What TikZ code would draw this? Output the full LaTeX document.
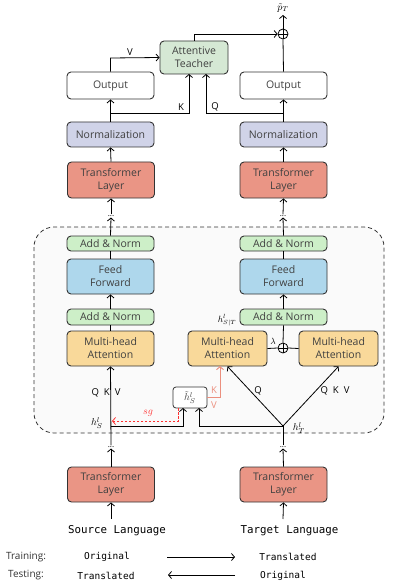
\documentclass[tikz,border=0pt]{standalone}
\usepackage{fontspec}
\setmainfont{Open Sans}
\setmonofont{DejaVu Sans Mono}
\usetikzlibrary{arrows.meta,calc}
\definecolor{cOut}{HTML}{FFFFFF}
\definecolor{cAT}{HTML}{D5E8D4}
\definecolor{cNorm}{HTML}{D0D3E8}
\definecolor{cTr}{HTML}{EA9585}
\definecolor{cAN}{HTML}{CDEFC8}
\definecolor{cFF}{HTML}{AED7EC}
\definecolor{cMHA}{HTML}{F9D99A}
\definecolor{cKV}{HTML}{EB8F7E}
\definecolor{cSG}{HTML}{FF3030}
\definecolor{cBG}{HTML}{FAFAFA}
\begin{document}
\begin{tikzpicture}[x=1pt,y=-1pt,
  box/.style={draw=black!80, line width=0.9pt, rounded corners=4pt, align=center,
    inner sep=0pt, font=\fontsize{10.5}{13}\selectfont, text=black!75},
  arr/.style={-{Straight Barb[length=3pt,width=7pt]}, line width=0.8pt},
  ln/.style={line width=0.8pt},
  lbl/.style={font=\fontsize{9.5}{11}\selectfont, inner sep=0pt, text=black},
  dots/.style={inner sep=0.8pt, font=\fontsize{8}{6}\selectfont},
  plusc/.style={circle, draw, line width=0.8pt, minimum size=10pt, inner sep=0pt},
  mono/.style={font=\ttfamily\fontsize{10.8}{13}\selectfont, inner sep=0pt}
]
\useasboundingbox (0,0) rectangle (415,588);
% dashed region
\draw[line width=0.8pt, dash pattern=on 4pt off 3pt, fill=cBG, rounded corners=20pt, draw=black!80] (34,227) rectangle (384,433);

% top part
\node[box, fill=cOut, minimum width=87pt, minimum height=27pt] (outL) at (110.5,85.5) {Output};
\node[box, fill=cOut, minimum width=87pt, minimum height=27pt] (outR) at (283.5,85.5) {Output};
\node[box, fill=cAT, minimum width=68pt, minimum height=33pt] (AT) at (194,57.5) {Attentive\\Teacher};
\node[plusc] (pTop) at (283,34) {};
\draw[line width=0.8pt] (pTop.north)--(pTop.south) (pTop.west)--(pTop.east);
\node[inner sep=0pt] (pT) at (283,8) {$\tilde{p}_T$};
\node[box, fill=cNorm, minimum width=87pt, minimum height=25pt] (normL) at (110.5,134.5) {Normalization};
\node[box, fill=cNorm, minimum width=87pt, minimum height=25pt] (normR) at (283.5,134.5) {Normalization};
\node[box, fill=cTr, minimum width=87pt, minimum height=36pt] (trL) at (111,180) {Transformer\\Layer};
\node[box, fill=cTr, minimum width=87pt, minimum height=36pt] (trR) at (283.5,180) {Transformer\\Layer};
\node[dots] (dTL) at (111,216) {...};
\node[dots] (dTR) at (283,216) {...};

% encoder block left
\node[box, fill=cAN, minimum width=87pt, minimum height=15pt] (an1L) at (110.5,243.5) {Add \& Norm};
\node[box, fill=cFF, minimum width=87pt, minimum height=35pt] (ffL) at (110.5,276.5) {Feed\\Forward};
\node[box, fill=cAN, minimum width=87pt, minimum height=16pt] (an2L) at (110.5,317) {Add \& Norm};
\node[box, fill=cMHA, minimum width=87pt, minimum height=35pt] (mhaL) at (110.5,348.5) {Multi-head\\Attention};
% encoder block right
\node[box, fill=cAN, minimum width=87pt, minimum height=15pt] (an1R) at (283.5,243.5) {Add \& Norm};
\node[box, fill=cFF, minimum width=87pt, minimum height=35pt] (ffR) at (283.5,276.5) {Feed\\Forward};
\node[box, fill=cAN, minimum width=87pt, minimum height=16pt] (an2R) at (283.5,317) {Add \& Norm};
\node[box, fill=cMHA, minimum width=79pt, minimum height=35pt] (mhaA) at (227.5,348.5) {Multi-head\\Attention};
\node[box, fill=cMHA, minimum width=79pt, minimum height=35pt] (mhaB) at (338.5,348.5) {Multi-head\\Attention};
\node[plusc] (pMid) at (283,348) {};
\draw[line width=0.8pt] (pMid.north)--(pMid.south) (pMid.west)--(pMid.east);
\node[inner sep=0pt, font=\small] (lam) at (273,341) {$\lambda$};
\node[inner sep=0pt, font=\small] (hST) at (227,320) {$h^{l}_{S|T}$};
\node[box, fill=white, rounded corners=3pt, minimum width=34pt, minimum height=21pt, line width=0.8pt, font=\normalsize] (hts) at (190,397.5) {$\tilde{h}^{l}_{S}$};

\coordinate (hS) at (111,426);
\coordinate (hT) at (283,426);
\node[inner sep=0pt] (hSl) at (97,423) {$h^{l}_{S}$};
\node[inner sep=0pt] (hTl) at (299,428) {$h^{l}_{T}$};
\node[dots] (dBL) at (111,447) {...};
\node[dots] (dBR) at (283,447) {...};

% bottom
\node[box, fill=cTr, minimum width=87pt, minimum height=35pt] (tbL) at (111,484.5) {Transformer\\Layer};
\node[box, fill=cTr, minimum width=87pt, minimum height=35pt] (tbR) at (283.5,484.5) {Transformer\\Layer};
\coordinate (inL) at (111,519);
\coordinate (inR) at (283,519);
\node[mono] (srcL) at (117,530.5) {Source Language};
\node[mono] (tgtL) at (289.5,530.5) {Target Language};

\node[lbl, text=black!80, font=\fontsize{10}{11}\selectfont] (trn) at (26,557) {Training:};
\node[lbl, text=black!80, font=\fontsize{10}{11}\selectfont] (tst) at (26,575) {Testing:};
\node[mono, font=\ttfamily\fontsize{9.5}{11}\selectfont] (o1) at (107,557) {Original};
\node[mono, font=\ttfamily\fontsize{9.5}{11}\selectfont] (t1) at (288,557) {Translated};
\node[mono, font=\ttfamily\fontsize{9.5}{11}\selectfont] (t2) at (106,576) {Translated};
\node[mono, font=\ttfamily\fontsize{9.5}{11}\selectfont] (o2) at (283,576) {Original};
\coordinate (a1s) at (167,557); \coordinate (a1e) at (235,557);
\coordinate (a2s) at (235,575); \coordinate (a2e) at (168,575);
\draw[arr] (a1s) -- (a1e);
\draw[arr] (a2s) -- (a2e);

% connectors bottom
\draw[arr] (inL) -- (tbL.south);
\draw[arr] (inR) -- (tbR.south);
\draw[arr] (tbL.north) -- (dBL.south);
\draw[arr] (tbR.north) -- (dBR.south);
\draw[arr] (dBL.north) -- (mhaL.south);
\draw[ln] (dBR.north) -- (hT);

% inside left
\draw[ln] (mhaL.north) -- (an2L.south);
\draw[arr] (an2L.north) -- (ffL.south);
\draw[ln] (ffL.north) -- (an1L.south);
\draw[arr] (an1L.north) -- (dTL.south);
% inside right
\draw[ln] (mhaA.east) -- (pMid.west);
\draw[ln] (pMid.east) -- (mhaB.west);
\draw[ln] (pMid.north) -- (an2R.south);
\draw[arr] (an2R.north) -- (ffR.south);
\draw[ln] (ffR.north) -- (an1R.south);
\draw[arr] (an1R.north) -- (dTR.south);

\draw[arr] (hT) -- (mhaA.south);
\draw[arr] (hT) -- (mhaB.south);
\draw[arr] (hS) -- (183,426) -- (183,408);
\draw[arr] (hT) -- (199,426) -- (199,408);
\draw[arr, draw=cSG, dashed, dash pattern=on 2.5pt off 1.5pt] (178,408) -- (178,421) -- (112,421);
\node[inner sep=0pt, text=cSG] (sg) at (148,413) {$sg$};
\draw[arr, draw=cKV, line width=1pt] (hts.east) -- (220,397.5) -- (220,366);
\node[lbl, text=cKV] (kk) at (214,390) {K};
\node[lbl, text=cKV] (vv) at (214,405.5) {V};
\node[lbl] (qkvL) at (106,393) {Q\hspace{5pt}K\hspace{5pt}V};
\node[lbl] (qR) at (258,391) {Q};
\node[lbl] (qkvR) at (335,391) {Q\hspace{5pt}K\hspace{5pt}V};

% top connectors
\draw[arr] (dTL.north) -- (trL.south);
\draw[arr] (dTR.north) -- (trR.south);
\draw[arr] (trL.north) -- (normL.south);
\draw[arr] (trR.north) -- (normR.south);
\draw[arr] (normL.north) -- (outL.south);
\draw[arr] (normR.north) -- (outR.south);
\draw[arr] (110.5,113) -- (189,113) -- (189,74);
\draw[arr] (283.5,113) -- (206,113) -- (206,74);
\node[lbl] (kl) at (181,107) {K};
\node[lbl] (ql) at (215,107) {Q};
\draw[arr] (outL.north) -- (110.5,58) -- (AT.west);
\node[lbl] (vl) at (130,52) {V};
\draw[arr] (AT.north) -- (194,34) -- (pTop.west);
\draw[ln] (outR.north) -- (pTop.south);
\draw[arr] (pTop.north) -- (283,15);
\end{tikzpicture}
\end{document}
